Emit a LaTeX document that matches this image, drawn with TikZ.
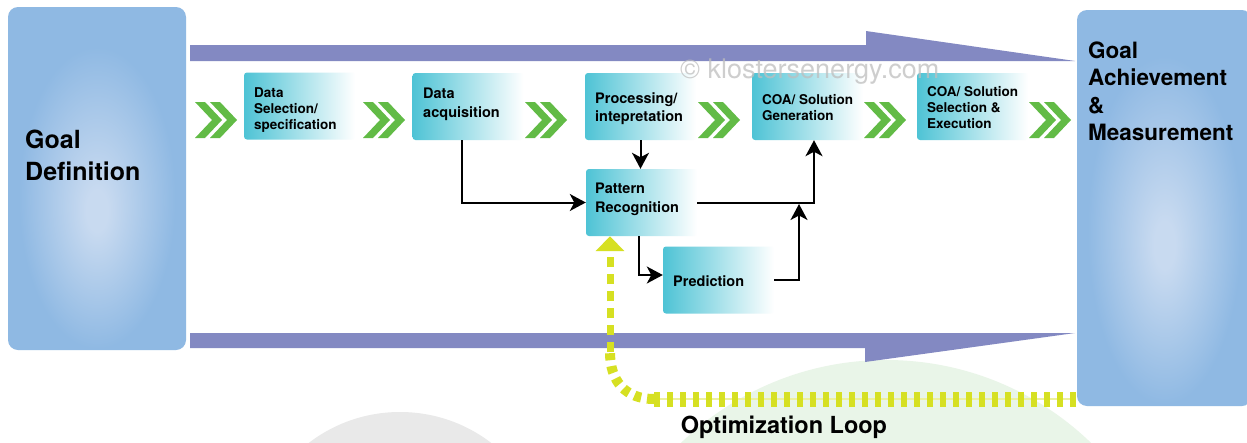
\documentclass[tikz,border=0pt]{standalone}
\usepackage{fontspec}
\setmainfont{TeX Gyre Heros}
\usetikzlibrary{arrows.meta,calc}

\definecolor{goalb}{RGB}{143,185,227}
\definecolor{glowc}{RGB}{200,218,240}
\definecolor{arrowbar}{RGB}{131,137,194}
\definecolor{chev}{RGB}{98,187,70}
\definecolor{procteal}{RGB}{78,195,213}
\definecolor{loopyel}{RGB}{214,224,34}
\definecolor{wmgray}{RGB}{190,190,190}
\definecolor{wmgreen}{RGB}{233,245,232}
\definecolor{wmlgray}{RGB}{233,233,233}

% soft light spot inside the two goal panels
\pgfdeclareradialshading{goalglow}{\pgfpoint{0bp}{-5bp}}{color(0bp)=(glowc); color(3bp)=(glowc); color(22bp)=(goalb); color(50bp)=(goalb)}

\tikzset{
  goalbox/.style={rectangle, rounded corners=10pt, shading=goalglow, inner sep=0pt},
  goaltext/.style={inner sep=0pt, anchor=north west, align=left, font=\bfseries},
  procbox/.style={rectangle, rounded corners=3pt, left color=procteal, right color=white,
    minimum width=111pt, minimum height=67pt, inner sep=0pt},
  ptext/.style={inner sep=0pt, anchor=north west, align=left},
  conn/.style={draw=black, line width=2pt, -{Stealth[length=16pt,width=17pt,inset=4.5pt]}},
  loopwide/.style={draw=loopyel, line width=15pt, dash pattern=on 6pt off 7pt},
  loopmid/.style={draw=loopyel, line width=10pt, dash pattern=on 7pt off 6pt},
  loopthin/.style={draw=loopyel, line width=7pt, dash pattern=on 10pt off 7pt},
  chevpair/.pic={
    \fill[chev] (-21,-18) -- (-11,-18) -- (6,0) -- (-11,18) -- (-21,18) -- (-4,0) -- cycle;
    \fill[chev] (-6,-18) -- (4,-18) -- (21,0) -- (4,18) -- (-6,18) -- (11,0) -- cycle;
  },
}

\begin{document}
\begin{tikzpicture}[x=1pt, y=-1pt]
  \useasboundingbox (0,0) rectangle (1247,442);
  \clip (0,0) rectangle (1247,442);
  \fill[white] (0,0) rectangle (1247,442);

  % faint round marks in the background
  \fill[wmlgray] (400,562) circle[radius=150pt];
  \fill[wmgreen] (886,655) circle[radius=295pt];

  % broad flow arrows above and below the process chain
  \fill[arrowbar] (190,45) -- (866,45) -- (866,31) -- (1075,61) -- (190,61) -- cycle;
  \fill[arrowbar] (190,333) -- (1075,333) -- (865,362) -- (865,348) -- (190,348) -- cycle;

  % goal panels
  \node[goalbox, minimum width=178pt, minimum height=343pt] (gdef) at (97,178.5) {};
  \node[goaltext, font=\fontsize{25}{32}\selectfont\bfseries] (gdeftxt) at (25,130) {Goal\\Definition};

  \node[goalbox, minimum width=175pt, minimum height=396pt] (gam) at (1164.5,208) {};
  \node[goaltext, font=\fontsize{22.5}{27.5}\selectfont\bfseries] (gamtxt) at (1088,41.5)
    {Goal\\Achievement\\\&\\Measurement};

  % process chain boxes
  \node[procbox] (sel)  at (299.5,106) {};
  \node[procbox] (acq)  at (468,106.5) {};
  \node[procbox] (proc) at (640.5,106.5) {};
  \node[procbox] (gen)  at (807.5,106.5) {};
  \node[procbox] (exe)  at (972.5,106.5) {};
  \node[procbox] (pat)  at (641.5,202.5) {};
  \node[procbox] (pred) at (718.5,280) {};

  % box labels
  \node[ptext, font=\fontsize{13.5}{16}\selectfont\bfseries]   (seltxt)  at (254,87.3)  {Data\\Selection/\\specification};
  \node[ptext, font=\fontsize{14.5}{19}\selectfont\bfseries]   (acqtxt)  at (423,87.5)  {Data\\acquisition};
  \node[ptext, font=\fontsize{14.5}{18}\selectfont\bfseries]   (proctxt) at (595,92.6)  {Processing/\\intepretation};
  \node[ptext, font=\fontsize{13.5}{16.5}\selectfont\bfseries] (gentxt)  at (762,94.2)  {COA/ Solution\\Generation};
  \node[ptext, font=\fontsize{13.5}{16}\selectfont\bfseries]   (exetxt)  at (927,86.7)  {COA/ Solution\\Selection \&\\Execution};
  \node[ptext, font=\fontsize{14.5}{19}\selectfont\bfseries]   (pattxt)  at (595,182.6) {Pattern\\Recognition};
  \node[ptext, font=\fontsize{14.5}{19}\selectfont\bfseries]   (predtxt) at (673,275.6) {Prediction};

  % chevrons between the stages
  \foreach \cx in {216,384,546,719,885,1050}
    \pic at (\cx,120) {chevpair};

  % analysis connectors
  \coordinate (jn) at (799,204);
  \draw[conn] ([xshift=-6pt]acq.south) |- (pat.west);
  \draw[conn] (proc.south) -- (proc.south |- pat.north);
  \draw[conn] (pat.east) -| ([xshift=6.5pt]gen.south);
  \draw[conn] ([xshift=-3pt]pat.south) |- ([yshift=5pt]pred.west);
  \draw[conn] (pred.east) -| (jn);

  % optimisation loop back to pattern recognition
  \coordinate (lpa) at (1076,399);
  \coordinate (lpb) at (654,399);
  \coordinate (lpc) at (610,352);
  \coordinate (lpt) at ([xshift=-31.5pt]pat.south);
  \draw[loopyel!45, line width=1.2pt] (lpa) -- (lpb);
  \draw[loopwide] (lpa) -- (lpb);
  \draw[loopmid] (lpb) .. controls (626,399) and (610,382) .. (lpc);
  \draw[loopthin, -{Triangle[length=15pt,width=28pt]}] (lpc) -- (lpt);

  \node[anchor=base, inner sep=0pt, font=\fontsize{23.5}{28}\selectfont\bfseries] (optlabel)
    at (784,433) {Optimization Loop};

  % copyright mark
  \node[anchor=base west, inner sep=0pt, text=wmgray, text opacity=0.75,
    font=\fontsize{27}{30}\selectfont] (wmark) at (680,78) {© klostersenergy.com};
\end{tikzpicture}
\end{document}
